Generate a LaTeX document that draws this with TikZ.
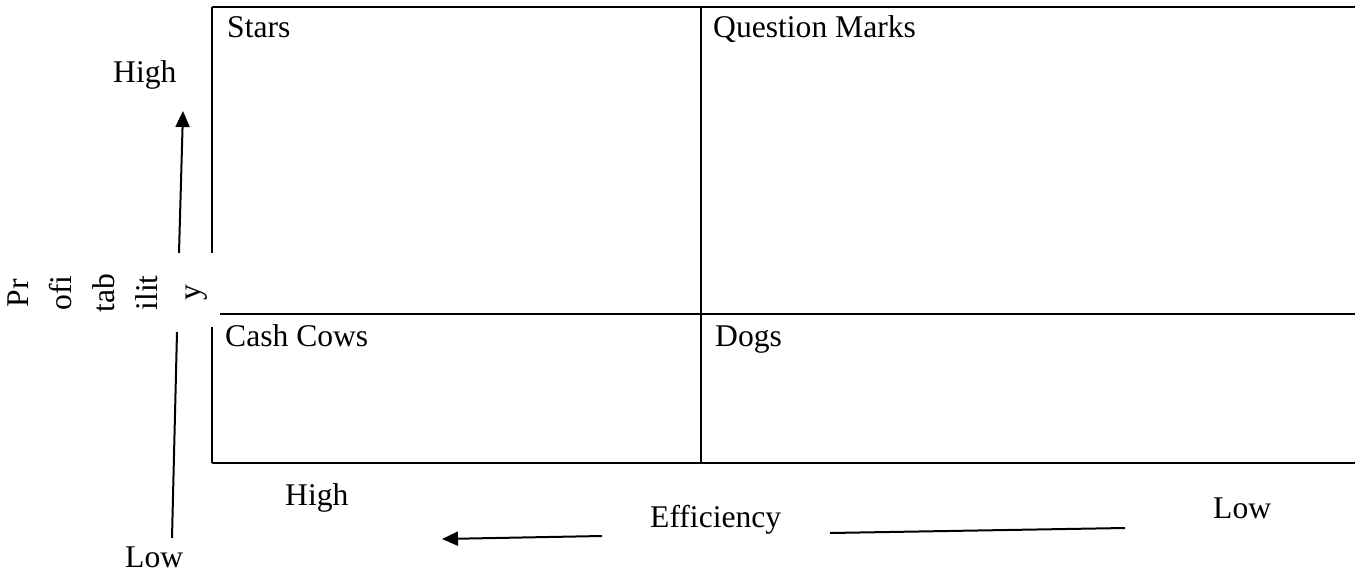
\documentclass[tikz,border=0pt]{standalone}
\usepackage{fontspec}
\setmainfont{Liberation Serif}
\usetikzlibrary{arrows.meta}
\begin{document}
\begin{tikzpicture}[x=1pt,y=-1pt,
  grid/.style={line width=2.3pt},
  axis/.style={line width=2pt},
  lbl/.style={anchor=base west,inner sep=0pt,font=\fontsize{31.6}{36}\selectfont},
  tip/.style={-{Triangle[length=16pt,width=14pt]}}]
\useasboundingbox (0,0) rectangle (1355,573);
% grid corners
\coordinate (tl) at (212,7);
\coordinate (tr) at (1356,7);
\coordinate (bl) at (212,463);
\coordinate (br) at (1356,463);
\coordinate (lgapT) at (212,253);
\coordinate (lgapB) at (212,327);
\coordinate (ml) at (220,314);
\coordinate (mr) at (1356,314);
\coordinate (mt) at (701,7);
\coordinate (mb) at (701,463);
\draw[grid] (tl) -- (tr);
\draw[grid] (bl) -- (br);
\draw[grid] (tl) -- (lgapT);
\draw[grid] (lgapB) -- (bl);
\draw[grid] (ml) -- (mr);
\draw[grid] (mt) -- (mb);
% quadrant labels
\node[lbl] (stars) at (227,37) {Stars};
\node[lbl] (qm) at (713,37) {Question Marks};
\node[lbl] (cc) at (225,346) {Cash Cows};
\node[lbl] (dogs) at (715,346) {Dogs};
% axis labels
\node[lbl] (hiV) at (113,82) {High};
\node[lbl] (loV) at (125,567) {Low};
\node[lbl] (hiH) at (285,505) {High};
\node[lbl] (eff) at (650,527) {Efficiency};
\node[lbl] (loH) at (1213,518) {Low};
\node[rotate=90,align=center,inner sep=0pt,
      font=\fontsize{31.6}{43}\selectfont] (prof) at (108,293)
  {Pr\\ofi\\tab\\ilit\\y};
% axis arrows
\coordinate (vA) at (179,253);
\coordinate (vB) at (183,111);
\coordinate (vC) at (177,332);
\coordinate (vD) at (172,538);
\coordinate (hA) at (602,536);
\coordinate (hB) at (442,539);
\coordinate (hC) at (830,533);
\coordinate (hD) at (1125,528);
\draw[axis,tip] (vA) -- (vB);
\draw[axis] (vC) -- (vD);
\draw[axis,tip] (hA) -- (hB);
\draw[axis] (hC) -- (hD);
\end{tikzpicture}
\end{document}
